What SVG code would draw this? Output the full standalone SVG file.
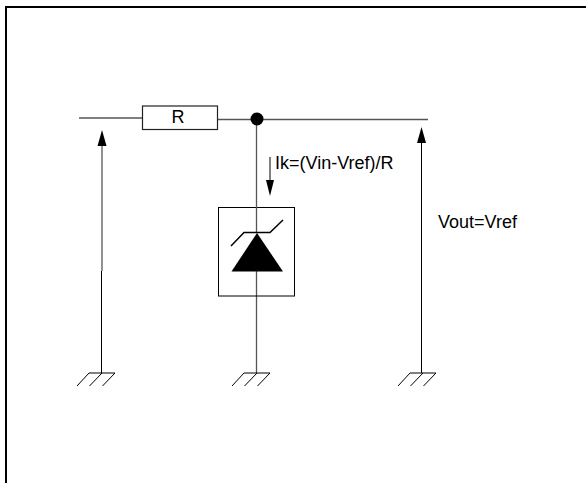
<svg xmlns="http://www.w3.org/2000/svg" width="586" height="483" viewBox="0 0 586 483">
<style>
.w{fill:none;stroke:#000;stroke-width:1}
.g{fill:none;stroke:#000;stroke-width:1}
.m{fill:none;stroke:#555;stroke-width:1.3}
.f{fill:#000;stroke:none}
text{font-family:"Liberation Sans",Arial,sans-serif;font-size:18px;fill:#000}
</style>
<defs>
<g id="gnd"><path class="g" d="M-13 0H13M-13 0L-25 13M0 0L-12.500 13M13 0L0.500 13"/></g>
</defs>
<rect width="586" height="483" fill="#fff"/>
<path d="M6 483V7H586" fill="none" stroke="#000" stroke-width="2"/>
<g id="connectors">
<path class="m" d="M79 118H142"/>
<path class="m" d="M218 119.500H428"/>
<path class="m" d="M256.500 119V207"/>
<path class="m" d="M256.500 271V373"/>
<path class="m" d="M102 146V271"/>
<path class="w" d="M101.500 271V373"/>
<path class="w" d="M421.500 143V373"/>
<path class="w" d="M270 157V180"/>
<polygon class="f" points="102,130 106.500,146 97.500,146"/>
<polygon class="f" points="421.500,127 426,143 417,143"/>
<polygon class="f" points="270,196 266,180 274,180"/>
</g>
<g id="resistor"><rect x="142.500" y="106" width="75" height="23.500" fill="#fff" stroke="#222" stroke-width="1.200"/><text x="178" y="123" text-anchor="middle">R</text></g>
<g id="junction"><circle class="f" cx="257" cy="119" r="6.500"/></g>
<g id="zener">
<rect x="218.500" y="207.500" width="76" height="88.500" fill="none" stroke="#000"/>
<path class="m" d="M256.500 207V233"/>
<polygon class="f" points="257,233 283,271.500 231.500,271.500"/>
<path d="M231 246L244 232.500H270L283 220" fill="none" stroke="#000" stroke-width="1.500"/>
</g>
<g id="gnd1"><use href="#gnd" x="102" y="373"/></g>
<g id="gnd2"><use href="#gnd" x="257" y="373"/></g>
<g id="gnd3"><use href="#gnd" x="423" y="373"/></g>
<g id="labels">
<text x="275" y="169">Ik=(Vin-Vref)/R</text>
<text x="438" y="228">Vout=Vref</text>
</g>
</svg>
